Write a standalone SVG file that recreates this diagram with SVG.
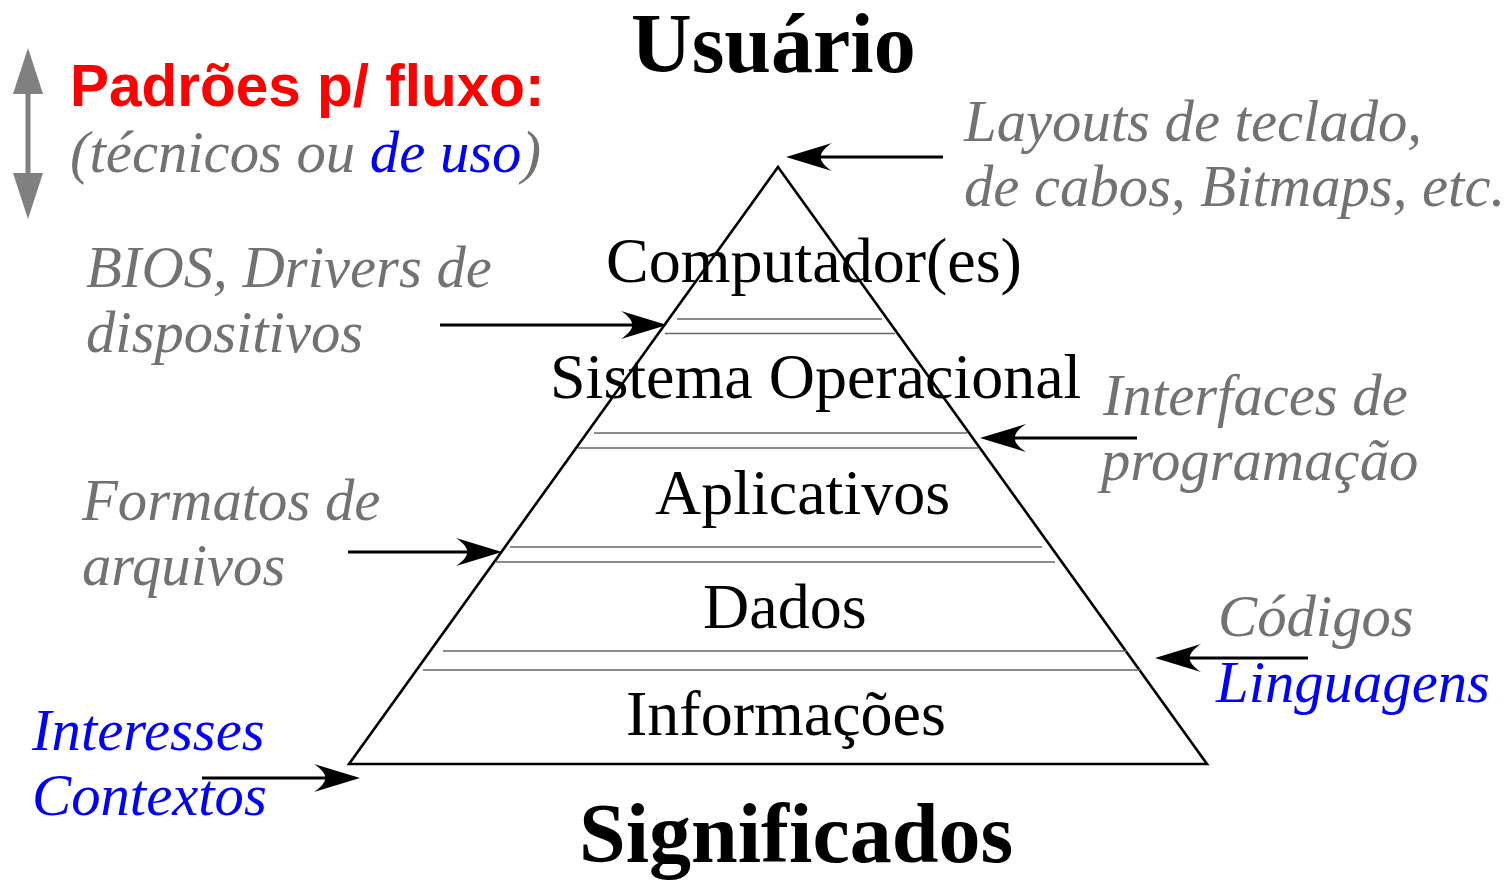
<svg xmlns="http://www.w3.org/2000/svg" width="1512" height="882" viewBox="0 0 1512 882">
  <style>
    .note { font-family: "Liberation Serif", "Times New Roman", serif; font-style: italic; font-size: 58.7px; fill: #727272; }
    .blue { fill: #0000ff; }
    .layer { font-family: "Liberation Serif", "Times New Roman", serif; font-size: 64px; fill: #000; }
    .title { font-family: "Liberation Serif", "Times New Roman", serif; font-weight: bold; font-size: 84px; fill: #000; }
    .head { font-family: "Liberation Sans", Arial, sans-serif; font-weight: bold; font-size: 58.5px; fill: #ff0000; }
    .sep { stroke: #666; stroke-width: 1.4; fill: none; }
    .conn { stroke: #000; stroke-width: 3; fill: none; marker-end: url(#ah); }
  </style>
  <defs>
    <marker id="ah" markerUnits="userSpaceOnUse" markerWidth="52" markerHeight="32" viewBox="-48 -16 50 32" refX="-20" refY="0" orient="auto" overflow="visible">
      <path d="M0,0 L-46,-14 C-31,-4 -31,4 -46,14 Z" fill="#000"/>
    </marker>
  </defs>
  <rect width="1512" height="882" fill="#fff"/>

  <g id="pyramid">
    <path d="M778,167 L349,764 L1207,764 Z" fill="none" stroke="#000" stroke-width="2.6" stroke-linejoin="miter"/>
    <line class="sep" x1="677" y1="319" x2="882" y2="319"/>
    <line class="sep" x1="665" y1="333.5" x2="895" y2="333.5"/>
    <line class="sep" x1="594" y1="433" x2="967" y2="433"/>
    <line class="sep" x1="578" y1="448" x2="978" y2="448"/>
    <line class="sep" x1="510" y1="547" x2="1042" y2="547"/>
    <line class="sep" x1="495" y1="562" x2="1055" y2="562"/>
    <line class="sep" x1="443" y1="651" x2="1127" y2="651"/>
    <line class="sep" x1="423" y1="670" x2="1140" y2="670"/>
  </g>

  <g id="layer-computador"><text class="layer" x="606" y="282">Computador(es)</text></g>
  <g id="layer-so"><text class="layer" x="550" y="398">Sistema Operacional</text></g>
  <g id="layer-aplicativos"><text class="layer" x="655" y="514">Aplicativos</text></g>
  <g id="layer-dados"><text class="layer" x="703" y="628">Dados</text></g>
  <g id="layer-informacoes"><text class="layer" x="626" y="735">Informações</text></g>

  <g id="title-usuario"><text class="title" x="631" y="72">Usuário</text></g>
  <g id="title-significados"><text class="title" x="579" y="862">Significados</text></g>

  <g id="legend">
    <line x1="28" y1="92" x2="28" y2="175" stroke="#808080" stroke-width="5"/>
    <polygon points="28,48 13,94 43,94" fill="#808080"/>
    <polygon points="28,219 13,173 43,173" fill="#808080"/>
    <text class="head" x="70" y="106">Padrões p/ fluxo:</text>
    <text class="note" x="70" y="172">(técnicos ou <tspan class="blue">de uso</tspan>)</text>
  </g>

  <g id="note-layouts">
    <text class="note" x="964" y="141">Layouts de teclado,</text>
    <text class="note" x="964" y="206">de cabos, Bitmaps, etc.</text>
  </g>
  <g id="note-bios">
    <text class="note" x="86" y="287">BIOS, Drivers de</text>
    <text class="note" x="86" y="352">dispositivos</text>
  </g>
  <g id="note-interfaces">
    <text class="note" x="1103" y="415">Interfaces de</text>
    <text class="note" x="1101" y="480">programação</text>
  </g>
  <g id="note-formatos">
    <text class="note" x="82" y="520">Formatos de</text>
    <text class="note" x="82" y="585">arquivos</text>
  </g>
  <g id="note-codigos">
    <text class="note" x="1218" y="636">Códigos</text>
    <text class="note blue" x="1216" y="702">Linguagens</text>
  </g>
  <g id="note-interesses">
    <text class="note blue" x="32" y="750">Interesses</text>
    <text class="note blue" x="32" y="815">Contextos</text>
  </g>

  <g id="connectors">
    <line class="conn" x1="943" y1="157" x2="806" y2="157"/>
    <line class="conn" x1="440" y1="325" x2="647" y2="325"/>
    <line class="conn" x1="1137" y1="438" x2="1000" y2="438"/>
    <line class="conn" x1="348" y1="552" x2="482" y2="552"/>
    <line class="conn" x1="1308" y1="658" x2="1175" y2="658"/>
    <line class="conn" x1="202" y1="778" x2="340" y2="778"/>
  </g>
</svg>
